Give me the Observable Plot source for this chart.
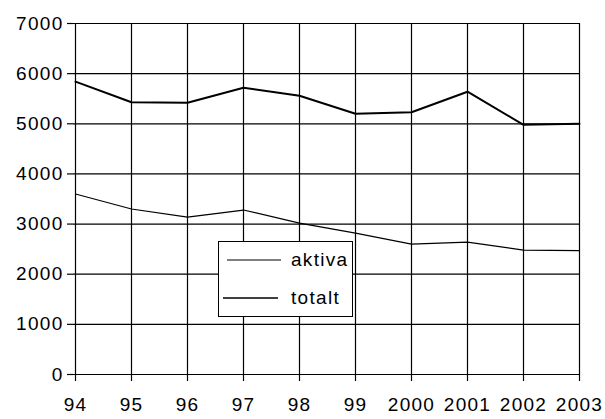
<!DOCTYPE html>
<html><head><meta charset="utf-8">
<script src="https://cdn.jsdelivr.net/npm/d3@7"></script>
<script src="https://cdn.jsdelivr.net/npm/@observablehq/plot@0.6"></script>
<style>
body{margin:0;background:#fff;}
#wrap{position:relative;width:605px;height:419px;}
.legend{position:absolute;left:218px;top:241px;width:135px;height:76px;border:1px solid #000;background:#fff;box-sizing:border-box;font:19px "Liberation Sans",Arial,sans-serif;letter-spacing:1.3px;color:#000;}
.legend .row{position:absolute;left:0;height:24px;display:flex;align-items:center;}
.legend svg{display:block;}
</style></head><body><div id="wrap"></div>
<script>
const years = ["94","95","96","97","98","99","2000","2001","2002","2003"];
const totalt = [5840, 5430, 5420, 5720, 5560, 5200, 5230, 5640, 4980, 5000];
const aktiva = [3600, 3300, 3140, 3280, 3020, 2820, 2600, 2640, 2480, 2470];
const yTicks = [0, 1000, 2000, 3000, 4000, 5000, 6000, 7000];
const seriesNames = ["aktiva", "totalt"];
const seriesWidths = [1.2, 2];

const data = [];
years.forEach((y, i) => {
  data.push({year: y, value: aktiva[i], series: "aktiva"});
  data.push({year: y, value: totalt[i], series: "totalt"});
});

const font = '"Liberation Sans", Arial, sans-serif';
const chart = Plot.plot({
  width: 605,
  height: 419,
  marginLeft: 73,
  marginRight: 25,
  marginTop: 23,
  marginBottom: 45,
  style: {background: "#fff", fontFamily: font, fontSize: "19px", color: "#000", letterSpacing: "1.3px"},
  x: {type: "point", domain: years, padding: 0},
  y: {domain: [0, 7000]},
  marks: [
    Plot.gridY(yTicks, {stroke: "#000", strokeOpacity: 1, strokeWidth: 1.2}),
    Plot.gridX(years, {stroke: "#000", strokeOpacity: 1, strokeWidth: 1.2}),
    Plot.axisY(yTicks, {tickSize: 6, tickPadding: 4, label: null, fontSize: 19, tickFormat: d => String(d), stroke: "#000", strokeWidth: 1.2}),
    Plot.axisX(years, {tickSize: 7, tickPadding: 16, label: null, fontSize: 19, stroke: "#000", strokeWidth: 1.2}),
    Plot.lineY(data.filter(d => d.series === "aktiva"), {x: "year", y: "value", stroke: "#000", strokeWidth: seriesWidths[0]}),
    Plot.lineY(data.filter(d => d.series === "totalt"), {x: "year", y: "value", stroke: "#000", strokeWidth: seriesWidths[1]})
  ]
});
const wrap = document.getElementById("wrap");
wrap.appendChild(chart);

const leg = d3.select(wrap).append("div").attr("class", "legend");
const rowTops = [6, 44];
seriesNames.forEach((name, i) => {
  const row = leg.append("div").attr("class", "row").style("top", rowTops[i] + "px");
  const s = row.append("svg").attr("width", 66).attr("height", 24);
  s.append("line").attr("x1", i === 0 ? 8 : 4).attr("x2", i === 0 ? 62 : 59)
    .attr("y1", 12).attr("y2", 12).attr("stroke", "#000").attr("stroke-width", i === 0 ? 1.2 : 1.6);
  row.append("span").style("margin-left", "6px").text(name);
});
</script>
</body></html>
